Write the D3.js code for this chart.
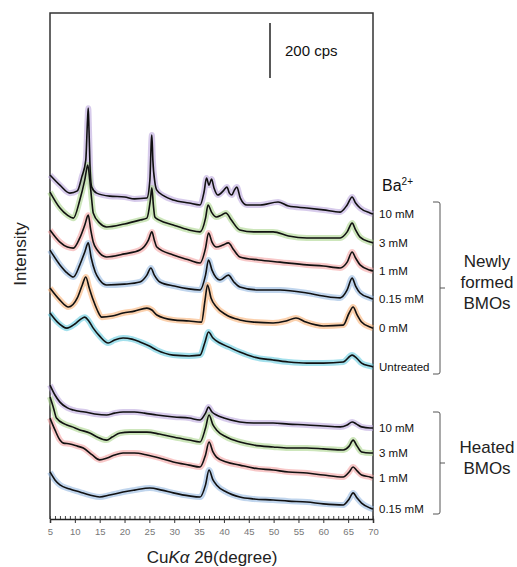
<!DOCTYPE html>
<html>
<head>
<meta charset="utf-8">
<script src="https://cdn.jsdelivr.net/npm/d3@7"></script>
<style>
  body { margin: 0; background: #fff; }
  text { font-family: "Liberation Sans", Arial, sans-serif; }
</style>
</head>
<body>
<script>
// XRD patterns, 2theta (deg) vs intensity (cps, stacked as plotted)

const newLabels = ["10 mM", "3 mM", "1 mM", "0.15 mM", "0 mM", "Untreated"];
const heatedLabels = ["10 mM", "3 mM", "1 mM", "0.15 mM"];
const xTicks = [5, 10, 15, 20, 25, 30, 35, 40, 45, 50, 55, 60, 65, 70];

// newly formed BMOs
const new10 = [[5,1251],[7,1214],[9,1185],[10.5,1193],[11.4,1244],[12.2,1305],[12.55,1451],[12.7,1494],[12.85,1414],[13.1,1262],[13.4,1207],[14.4,1185],[17,1174],[20,1171],[22,1164],[24.5,1167],[25.1,1233],[25.4,1378],[25.5,1396],[25.7,1305],[26.1,1225],[26.5,1196],[28,1174],[29.8,1160],[33,1149],[35.2,1142],[36,1189],[36.5,1240],[37,1214],[37.5,1236],[38,1204],[38.8,1178],[40,1196],[40.6,1207],[41.1,1185],[41.6,1178],[42.1,1196],[42.6,1207],[43.3,1167],[44.6,1142],[47.3,1142],[50.9,1153],[53,1138],[56.7,1131],[60,1124],[63.4,1116],[64.8,1142],[65.8,1171],[66.5,1149],[67.4,1131],[69.4,1113],[70,1109]];
const new3 = [[5,1189],[7,1131],[8.5,1105],[9.7,1094],[11,1160],[12,1233],[12.6,1287],[13,1233],[13.4,1160],[13.7,1113],[15,1076],[16.4,1062],[20,1073],[23.1,1087],[24.5,1094],[25.2,1160],[25.5,1204],[25.8,1142],[26.1,1098],[27,1087],[29.8,1069],[33,1051],[35.2,1044],[36.3,1094],[36.8,1142],[37.5,1116],[38.5,1098],[39.5,1105],[40.4,1113],[41.5,1087],[43.2,1051],[46,1044],[49.9,1044],[53,1029],[56.7,1022],[60,1022],[63.4,1022],[64.8,1044],[65.8,1076],[66.5,1051],[67.4,1025],[69.4,1007],[70,1004]];
const new1 = [[5,1051],[7,1007],[8.5,989],[9.7,985],[11,1022],[12,1069],[12.7,1105],[13.2,1051],[13.7,1007],[14.5,978],[16.4,953],[20,964],[23.1,978],[24.8,1014],[25.5,1044],[26,1014],[26.5,989],[29.8,960],[33,942],[35.2,931],[36.3,985],[36.9,1040],[37.6,1007],[38.5,989],[39.8,996],[40.9,1004],[42,978],[43.2,953],[47,942],[51.3,934],[56.7,924],[60,920],[63.4,913],[64.8,934],[65.8,971],[66.5,949],[67.4,924],[69.4,905],[70,902]];
const new015 = [[5,978],[7,924],[8.5,894],[9.7,880],[11,924],[12,971],[12.7,1004],[13.3,949],[14.1,898],[15,869],[16.4,851],[20,854],[23.1,862],[24.5,887],[25.3,913],[26,887],[27.1,862],[30,847],[35.2,833],[36.3,887],[36.9,942],[37.6,905],[39.2,869],[40.9,887],[42,862],[43.2,844],[47,833],[51.3,833],[56.7,822],[60,811],[63.4,804],[64.8,833],[65.8,876],[66.5,847],[67.4,822],[69.4,804],[70,800]];
const new0 = [[5,840],[7,796],[8.7,771],[10.5,804],[11.5,851],[12.2,880],[12.9,840],[13.7,796],[14.5,760],[15.4,734],[17.5,738],[19.7,749],[22,756],[24.5,767],[25.5,760],[26.5,742],[29.8,724],[33,720],[35.5,716],[36.2,796],[36.7,851],[37.4,804],[38.5,771],[40.5,742],[43.2,724],[46,716],[49.9,713],[52.5,720],[54.5,731],[56.5,716],[60,702],[64,705],[65.2,749],[66,771],[66.8,742],[67.7,716],[69.4,698],[70,694]];
const untreated = [[5,749],[6.5,716],[8.4,694],[10,709],[11.2,727],[12,734],[12.8,720],[13.7,694],[15,665],[16.7,640],[18,651],[19.7,658],[21.5,654],[23.1,644],[25,629],[26.5,614],[29.8,596],[33,593],[35.2,596],[36.2,644],[36.9,680],[37.8,658],[39.2,640],[41,625],[43.2,607],[46,589],[49.9,578],[53,571],[56.7,567],[60,567],[64,571],[65.8,596],[66.7,585],[67.7,567],[69.4,556],[70,553]];

// heated BMOs
const heat10 = [[5,487],[6,451],[7,425],[8.5,404],[9.7,396],[12,389],[14,382],[16.4,378],[18,385],[19.7,389],[22,389],[24,385],[26.5,378],[30,371],[33,367],[35.2,360],[36.3,385],[36.9,407],[37.6,389],[38.5,378],[40,367],[43.2,353],[46,349],[49.9,349],[53,345],[56.7,342],[60,338],[63.4,335],[64.8,342],[65.8,353],[66.7,345],[67.7,335],[69.4,331],[70,331]];
const heat3 = [[5,444],[5.7,404],[6.3,367],[8,345],[9.5,335],[11,324],[13,313],[14.5,298],[16.4,287],[17.5,298],[19.1,313],[21,316],[24.5,316],[27,309],[29.8,298],[33,287],[35.2,280],[36.3,331],[37,378],[37.8,342],[38.5,324],[40.5,298],[43.2,280],[46,269],[49.9,262],[53,258],[56.7,258],[60,255],[64,251],[65.2,265],[66,287],[66.8,265],[67.7,244],[69.4,240],[70,240]];
const heat1 = [[5,367],[6,324],[7,287],[7.7,276],[9,273],[10.5,265],[11.7,258],[13.5,233],[15,215],[16.5,222],[18,233],[19.7,240],[22,240],[24.5,233],[27,222],[29.8,207],[33,196],[35.2,189],[36.3,233],[37,280],[37.8,244],[38.5,225],[40.5,207],[43.2,196],[46,185],[49.9,178],[53,171],[56.7,167],[60,160],[64,153],[65.2,171],[66,189],[66.8,175],[67.7,160],[69.4,153],[70,149]];
const heat015 = [[5,171],[6,142],[7,124],[9,109],[11,98],[13,87],[15,80],[17,87],[19.7,98],[22,105],[25.1,113],[27.5,105],[29.8,95],[33,84],[35.2,80],[36.3,124],[37,178],[37.8,142],[38.5,124],[40.5,98],[43.2,80],[46,73],[49.9,69],[53,65],[56.7,62],[60,55],[64,51],[65.2,73],[66,95],[66.8,76],[67.7,58],[69.4,40],[70,36]];

const newSeries = [new10, new3, new1, new015, new0, untreated];
const heatedSeries = [heat10, heat3, heat1, heat015];
const newColors = ["#b7a0da", "#a4d184", "#f39a9a", "#8cb3de", "#f7ab6c", "#58c6dc"];
const heatedColors = ["#b7a0da", "#a4d184", "#f39a9a", "#8cb3de"];

const W = 517, H = 567;
const box = { left: 50, right: 373, top: 13, bottom: 519 };

const svg = d3.select("body").append("svg")
    .attr("width", W)
    .attr("height", H)

const x = d3.scaleLinear().domain([5, 70]).range([box.left, box.right]);
const y = d3.scaleLinear().domain([0, 1840]).range([box.bottom, box.top]);

const line = d3.line()
    .x(d => x(d[0]))
    .y(d => y(d[1]))
    .curve(d3.curveMonotoneX)

// frame (top, left, right)
svg.append("path")
    .attr("d", `M${box.left},${box.bottom}V${box.top}H${box.right}V${box.bottom}`)
    .attr("fill", "none")
    .attr("stroke", "#333")
    .attr("stroke-width", 1.5)

// curves: light coloured band under a black trace
function drawCurves(series, colors) {
    const g = svg.append("g")
    g.selectAll(".band")
        .data(series)
        .enter()
        .append("path")
        .attr("d", line)
        .attr("fill", "none")
        .attr("stroke", (d, i) => colors[i])
        .attr("stroke-width", 6)
        .attr("stroke-opacity", 0.55)
        .attr("stroke-linejoin", "round")
    g.selectAll(".trace")
        .data(series)
        .enter()
        .append("path")
        .attr("d", line)
        .attr("fill", "none")
        .attr("stroke", "#111")
        .attr("stroke-width", 1.6)
        .attr("stroke-linejoin", "round")
}
drawCurves(newSeries, newColors);
drawCurves(heatedSeries, heatedColors);

// x axis, minor ticks inside, major ticks outside
const minor = svg.append("g")
    .attr("transform", `translate(0,${box.bottom})`)
    .call(d3.axisBottom(x).tickValues(d3.range(5, 71, 1)).tickSize(-3).tickFormat(""))
minor.select(".domain").remove()
minor.selectAll("line").attr("stroke", "#444")

const xAxis = svg.append("g")
    .attr("transform", `translate(0,${box.bottom})`)
    .call(d3.axisBottom(x).tickValues(xTicks).tickSize(4).tickPadding(5).tickFormat(d3.format("d")))
xAxis.select(".domain").attr("stroke", "#222").attr("stroke-width", 1.5)
xAxis.selectAll("line").attr("stroke", "#333")
xAxis.selectAll("text")
    .attr("font-size", 9.5)
    .attr("fill", "#777")
    .attr("font-family", "'Liberation Sans', Arial, sans-serif")

// axis titles
const xt = svg.append("text")
    .attr("x", 212)
    .attr("y", 563)
    .attr("text-anchor", "middle")
    .attr("font-size", 17)
    .attr("fill", "#222")
xt.append("tspan").text("Cu")
xt.append("tspan").attr("font-style", "italic").text("K\u03b1")
xt.append("tspan").text(" 2\u03b8(degree)")

svg.append("text")
    .attr("transform", "translate(26,254) rotate(-90)")
    .attr("text-anchor", "middle")
    .attr("font-size", 17)
    .attr("fill", "#222")
    .text("Intensity")

// scale bar
const barBase = 1604, barSize = 200;
svg.append("line")
    .attr("x1", 270).attr("x2", 270)
    .attr("y1", y(barBase)).attr("y2", y(barBase + barSize))
    .attr("stroke", "#222")
    .attr("stroke-width", 1.5)
svg.append("text")
    .attr("x", 285)
    .attr("y", 56)
    .attr("font-size", 15)
    .attr("fill", "#111")
    .text(barSize + " cps")

// Ba2+ header
const ba = svg.append("text")
    .attr("x", 382)
    .attr("y", 191)
    .attr("font-size", 16)
    .attr("fill", "#111")
ba.append("tspan").text("Ba")
ba.append("tspan").attr("font-size", 10).attr("dy", -6).text("2+")

// labels at the end of each curve
function drawLabels(series, labels) {
    svg.selectAll(null)
        .data(series)
        .enter()
        .append("text")
        .attr("x", 379)
        .attr("y", d => y(d[d.length - 1][1]))
        .attr("dy", "0.35em")
        .attr("font-size", 11.5)
        .attr("fill", "#111")
        .text((d, i) => labels[i])
}
drawLabels(newSeries, newLabels);
drawLabels(heatedSeries, heatedLabels);

// brackets
function bracket(y0, y1, lines) {
    const xb = 440, mid = (y0 + y1) / 2;
    svg.append("path")
        .attr("d", `M433,${y0}H${xb - 2}Q${xb},${y0} ${xb},${y0 + 2}V${y1 - 2}Q${xb},${y1} ${xb - 2},${y1}H433M${xb},${mid}H${xb + 5}`)
        .attr("fill", "none")
        .attr("stroke", "#555")
        .attr("stroke-width", 1)
    const t = svg.append("text")
        .attr("x", 487)
        .attr("y", mid - (lines.length - 1) * 10.5)
        .attr("dy", "0.35em")
        .attr("text-anchor", "middle")
        .attr("font-size", 17)
        .attr("fill", "#222")
    lines.forEach((s, i) => {
        t.append("tspan").attr("x", 487).attr("dy", i ? 21 : 0).text(s)
    })
}
bracket(202, 374, ["Newly", "formed", "BMOs"]);
bracket(412, 514, ["Heated", "BMOs"]);
</script>
</body>
</html>
